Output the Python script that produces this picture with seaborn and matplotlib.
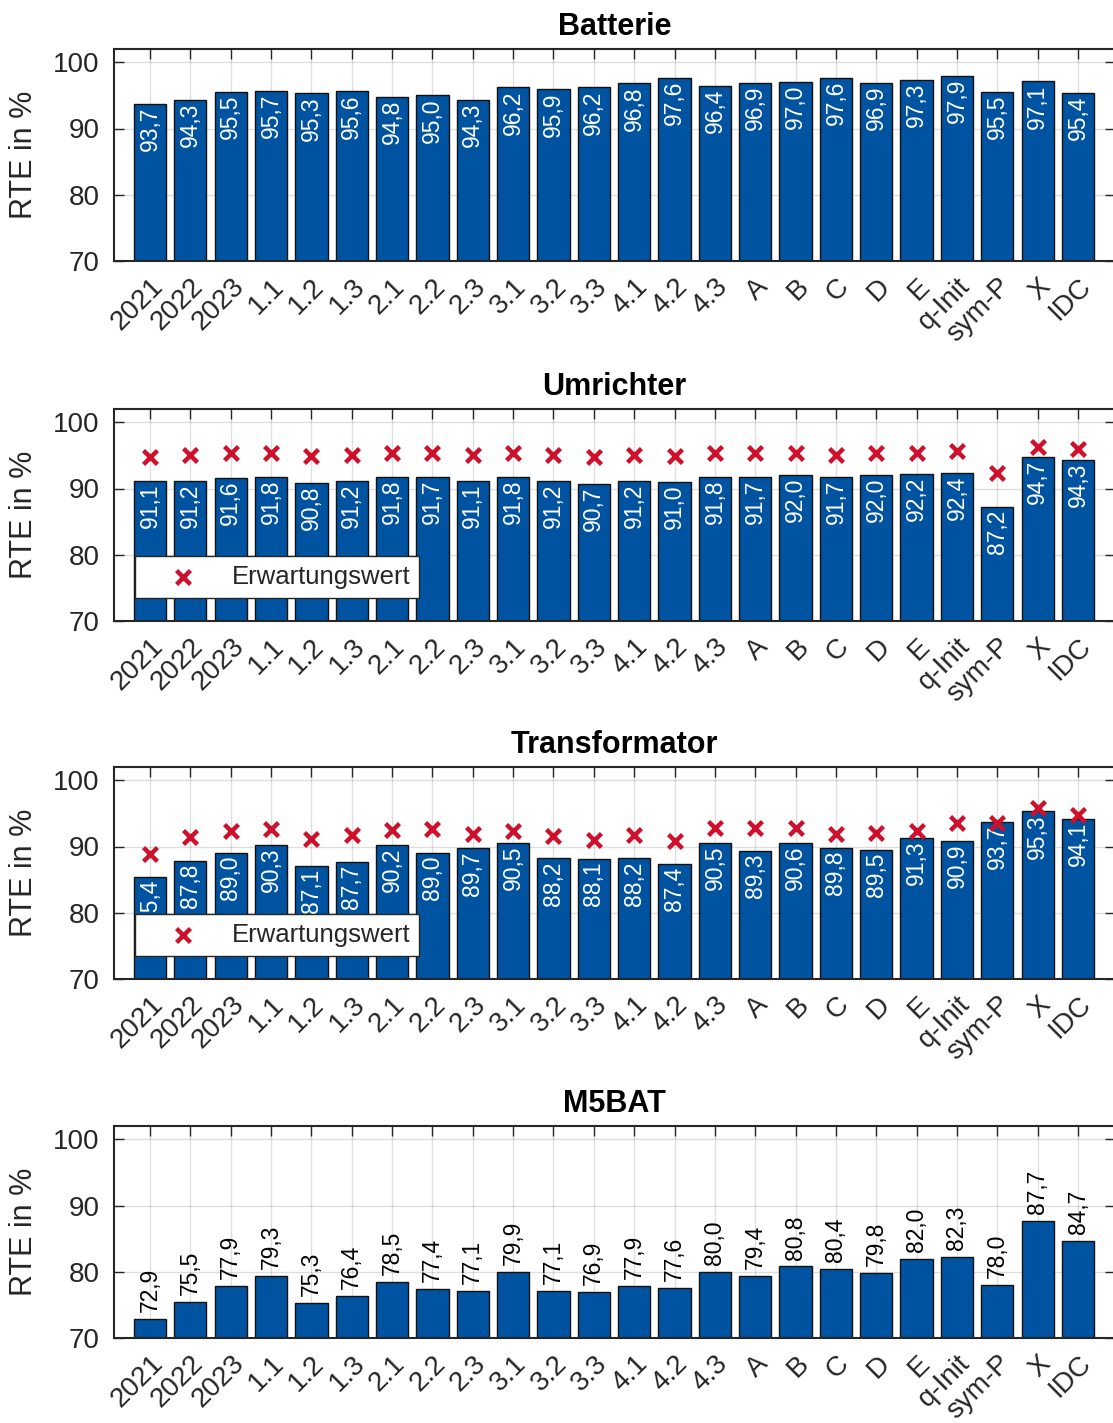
import numpy as np
import pandas as pd
import matplotlib
matplotlib.use("Agg")
import matplotlib.pyplot as plt
import seaborn as sns

# --- data -------------------------------------------------------------------
categories = ["2021", "2022", "2023", "1.1", "1.2", "1.3", "2.1", "2.2", "2.3",
              "3.1", "3.2", "3.3", "4.1", "4.2", "4.3", "A", "B", "C", "D", "E",
              "q-Init", "sym-P", "X", "IDC"]

batterie = [93.7, 94.3, 95.5, 95.7, 95.3, 95.6, 94.8, 95.0, 94.3, 96.2, 95.9, 96.2,
            96.8, 97.6, 96.4, 96.9, 97.0, 97.6, 96.9, 97.3, 97.9, 95.5, 97.1, 95.4]

umrichter = [91.1, 91.2, 91.6, 91.8, 90.8, 91.2, 91.8, 91.7, 91.1, 91.8, 91.2, 90.7,
             91.2, 91.0, 91.8, 91.7, 92.0, 91.7, 92.0, 92.2, 92.4, 87.2, 94.7, 94.3]
umrichter_erwartung = [94.8, 95.1, 95.3, 95.4, 94.9, 95.1, 95.3, 95.3, 95.0, 95.3, 95.1, 94.8,
                       95.0, 94.9, 95.4, 95.4, 95.4, 95.1, 95.3, 95.4, 95.6, 92.4, 96.3, 95.9]

transformator = [85.4, 87.8, 89.0, 90.3, 87.1, 87.7, 90.2, 89.0, 89.7, 90.5, 88.2, 88.1,
                 88.2, 87.4, 90.5, 89.3, 90.6, 89.8, 89.5, 91.3, 90.9, 93.7, 95.3, 94.1]
transformator_erwartung = [88.8, 91.5, 92.4, 92.6, 91.1, 91.8, 92.5, 92.6, 91.9, 92.4, 91.6, 91.0,
                           91.7, 90.9, 92.8, 92.8, 92.8, 91.9, 92.0, 92.4, 93.6, 93.6, 95.8, 94.8]

m5bat = [72.9, 75.5, 77.9, 79.3, 75.3, 76.4, 78.5, 77.4, 77.1, 79.9, 77.1, 76.9,
         77.9, 77.6, 80.0, 79.4, 80.8, 80.4, 79.8, 82.0, 82.3, 78.0, 87.7, 84.7]

titles = ["Batterie", "Umrichter", "Transformator", "M5BAT"]
ylabel = "RTE in %"
legend_label = "Erwartungswert"

# --- style ------------------------------------------------------------------
sns.set_theme(style="ticks")
plt.rcParams["font.family"] = ["Liberation Sans", "DejaVu Sans"]
DARK = "#262626"
BAR = "#0053A0"
RED = "#D0102A"

W, H = 1113, 1423
fig = plt.figure(figsize=(W / 100, H / 100), dpi=100)

# axes placement in pixels (left, right, top, bottom)
x_left, x_right = 113.7, 1115.0
panel_tb = [(49, 261), (409, 621), (767, 979), (1126, 1338)]


def fmt(v):
    return f"{v:.1f}".replace(".", ",")


def make_axes(top, bottom):
    return fig.add_axes([x_left / W, 1 - bottom / H,
                         (x_right - x_left) / W, (bottom - top) / H])


panels = [
    (batterie, None, "inside"),
    (umrichter, umrichter_erwartung, "inside"),
    (transformator, transformator_erwartung, "inside"),
    (m5bat, None, "above"),
]

n = len(categories)
for (vals, expect, lab_mode), title, (top, bottom) in zip(panels, titles, panel_tb):
    ax = make_axes(top, bottom)
    df = pd.DataFrame({"Kategorie": categories, "RTE": vals})
    sns.barplot(data=df, x="Kategorie", y="RTE", order=categories, color=BAR,
                saturation=1, width=0.8, edgecolor="#111111", linewidth=1.0,
                ax=ax, zorder=2)

    # value labels
    for i, v in enumerate(vals):
        if lab_mode == "inside":
            ax.annotate(fmt(v), (i, v), xytext=(0, -2), textcoords="offset points",
                        rotation=90, ha="center", va="top", color="white",
                        fontsize=16.5, zorder=4)
        else:
            ax.annotate(fmt(v), (i, v), xytext=(0, 5), textcoords="offset points",
                        rotation=90, ha="center", va="bottom", color="black",
                        fontsize=16.5, zorder=4)

    if expect is not None:
        sns.scatterplot(x=np.arange(n), y=expect, marker="x", color=RED, s=100,
                        linewidth=3.2, ax=ax, zorder=5, label=legend_label)
        leg = ax.legend(loc="lower left", bbox_to_anchor=(0.0213, 0.108),
                        borderaxespad=0, fontsize=18.5, frameon=True, fancybox=False,
                        edgecolor=DARK, framealpha=1, borderpad=0.35,
                        handlelength=3.0, handletextpad=0.4, markerscale=1.0)
        leg.get_frame().set_linewidth(1.0)
        leg.set_zorder(10)

    ax.set_xlim(-0.9, n - 1 + 0.917)
    ax.set_ylim(70, 102)
    ax.set_yticks([70, 80, 90, 100])
    ax.set_xticks(np.arange(n))
    ax.set_xticklabels(categories, rotation=45, ha="right", va="top",
                       rotation_mode="anchor")
    ax.set_xlabel("")
    ax.set_ylabel(ylabel, fontsize=22, color=DARK, labelpad=10)
    ax.set_title(title, fontsize=22, fontweight="bold", color="black", pad=10)

    ax.set_axisbelow(True)
    ax.grid(True, color=DARK, alpha=0.15, linewidth=1.0)
    ax.tick_params(direction="in", top=True, right=True, length=7.5, width=1.0,
                   labelsize=20, colors=DARK, labelcolor=DARK)
    ax.tick_params(axis="y", pad=10)
    ax.tick_params(axis="x", pad=9)
    for s in ax.spines.values():
        s.set_visible(True)
        s.set_color(DARK)
        s.set_linewidth(1.5)

fig.savefig("out.png", dpi=100)
